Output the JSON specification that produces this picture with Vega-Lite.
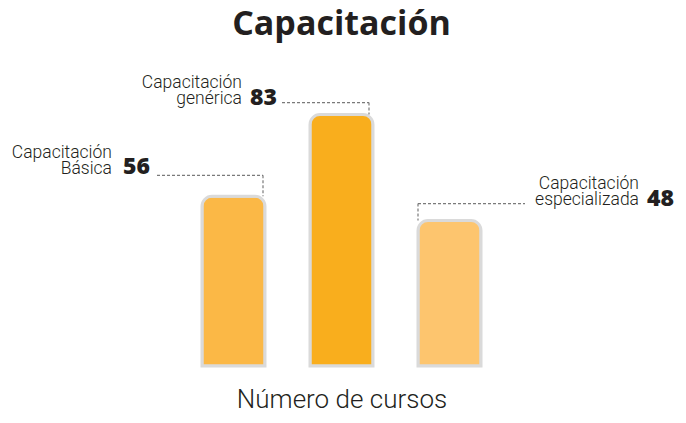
{
  "$schema": "https://vega.github.io/schema/vega-lite/v6.json",
  "width": 279,
  "height": 316,
  "autosize": "none",
  "padding": {"left": 202, "right": 205, "top": 50, "bottom": 57},
  "background": "white",
  "config": {"view": {"stroke": null}},
  "title": {
    "text": "Capacitación",
    "font": "Open Sans",
    "fontSize": 34,
    "fontWeight": "bold",
    "color": "#231f20",
    "anchor": "middle",
    "baseline": "alphabetic",
    "offset": -19
  },
  "data": {
    "values": [
      {"tipo": "Básica", "valor": 56, "etiqueta": "Capacitación\nBásica"},
      {"tipo": "Genérica", "valor": 83, "etiqueta": "Capacitación\ngenérica"},
      {"tipo": "Especializada", "valor": 48, "etiqueta": "Capacitación\nespecializada"}
    ]
  },
  "encoding": {
    "x": {
      "field": "tipo",
      "type": "nominal",
      "sort": null,
      "scale": {"paddingInner": 0.4167, "paddingOuter": 0},
      "axis": {
        "title": "Número de cursos",
        "labels": false,
        "ticks": false,
        "domain": false,
        "titleFont": "Roboto",
        "titleFontWeight": 300,
        "titleFontSize": 26,
        "titleColor": "#231f20",
        "titleBaseline": "alphabetic",
        "titlePadding": 41
      }
    },
    "y": {
      "field": "valor",
      "type": "quantitative",
      "scale": {"domain": [0, 104.3], "nice": false},
      "axis": null
    }
  },
  "layer": [
    {
      "mark": {
        "type": "bar",
        "cornerRadiusTopLeft": 10,
        "cornerRadiusTopRight": 10,
        "stroke": "#dadada",
        "strokeWidth": 3
      },
      "encoding": {
        "color": {
          "field": "tipo",
          "type": "nominal",
          "scale": {
            "domain": ["Básica", "Genérica", "Especializada"],
            "range": ["#fbb846", "#f9ae1d", "#fdc56e"]
          },
          "legend": null
        }
      }
    },
    {
      "transform": [{"filter": "datum.tipo === 'Básica'"}],
      "layer": [
        {
          "mark": {"type": "rule", "stroke": "#7a7a7a", "strokeWidth": 1.2, "strokeDash": [3, 2], "xOffset": -76.5, "x2Offset": 29.5, "yOffset": -21},
          "encoding": {"x2": {"field": "tipo"}}
        },
        {
          "mark": {"type": "rule", "stroke": "#7a7a7a", "strokeWidth": 1.2, "strokeDash": [3, 2], "xOffset": 29.5, "yOffset": -21, "y2Offset": 0},
          "encoding": {"y2": {"field": "valor"}}
        },
        {
          "mark": {"type": "text", "align": "right", "baseline": "alphabetic", "dx": -121.5, "dy": -38.8, "lineBreak": "\n", "lineHeight": 16, "font": "Roboto", "fontWeight": 300, "fontSize": 17.5, "color": "#231f20"},
          "encoding": {"text": {"field": "etiqueta"}}
        },
        {
          "mark": {"type": "text", "align": "left", "baseline": "alphabetic", "dx": -110.5, "dy": -22, "font": "Open Sans", "fontWeight": 800, "fontSize": 23, "color": "#231f20"},
          "encoding": {"text": {"field": "valor"}}
        }
      ]
    },
    {
      "transform": [{"filter": "datum.tipo === 'Genérica'"}],
      "layer": [
        {
          "mark": {"type": "rule", "stroke": "#7a7a7a", "strokeWidth": 1.2, "strokeDash": [3, 2], "xOffset": -59.5, "x2Offset": 27.5, "yOffset": -12},
          "encoding": {"x2": {"field": "tipo"}}
        },
        {
          "mark": {"type": "rule", "stroke": "#7a7a7a", "strokeWidth": 1.2, "strokeDash": [3, 2], "xOffset": 27.5, "yOffset": -12, "y2Offset": 0},
          "encoding": {"y2": {"field": "valor"}}
        },
        {
          "mark": {"type": "text", "align": "right", "baseline": "alphabetic", "dx": -99.5, "dy": -27, "lineBreak": "\n", "lineHeight": 16, "font": "Roboto", "fontWeight": 300, "fontSize": 17.5, "color": "#231f20"},
          "encoding": {"text": {"field": "etiqueta"}}
        },
        {
          "mark": {"type": "text", "align": "left", "baseline": "alphabetic", "dx": -91.5, "dy": -10, "font": "Open Sans", "fontWeight": 800, "fontSize": 23, "color": "#231f20"},
          "encoding": {"text": {"field": "valor"}}
        }
      ]
    },
    {
      "transform": [{"filter": "datum.tipo === 'Especializada'"}],
      "layer": [
        {
          "mark": {"type": "rule", "stroke": "#7a7a7a", "strokeWidth": 1.2, "strokeDash": [3, 2], "xOffset": -31.5, "x2Offset": 75.5, "yOffset": -17},
          "encoding": {"x2": {"field": "tipo"}}
        },
        {
          "mark": {"type": "rule", "stroke": "#7a7a7a", "strokeWidth": 1.2, "strokeDash": [3, 2], "xOffset": -31.5, "yOffset": -17, "y2Offset": 0},
          "encoding": {"y2": {"field": "valor"}}
        },
        {
          "mark": {"type": "text", "align": "right", "baseline": "alphabetic", "dx": 189.5, "dy": -32, "lineBreak": "\n", "lineHeight": 16, "font": "Roboto", "fontWeight": 300, "fontSize": 17.5, "color": "#231f20"},
          "encoding": {"text": {"field": "etiqueta"}}
        },
        {
          "mark": {"type": "text", "align": "left", "baseline": "alphabetic", "dx": 197.5, "dy": -15, "font": "Open Sans", "fontWeight": 800, "fontSize": 23, "color": "#231f20"},
          "encoding": {"text": {"field": "valor"}}
        }
      ]
    }
  ]
}
